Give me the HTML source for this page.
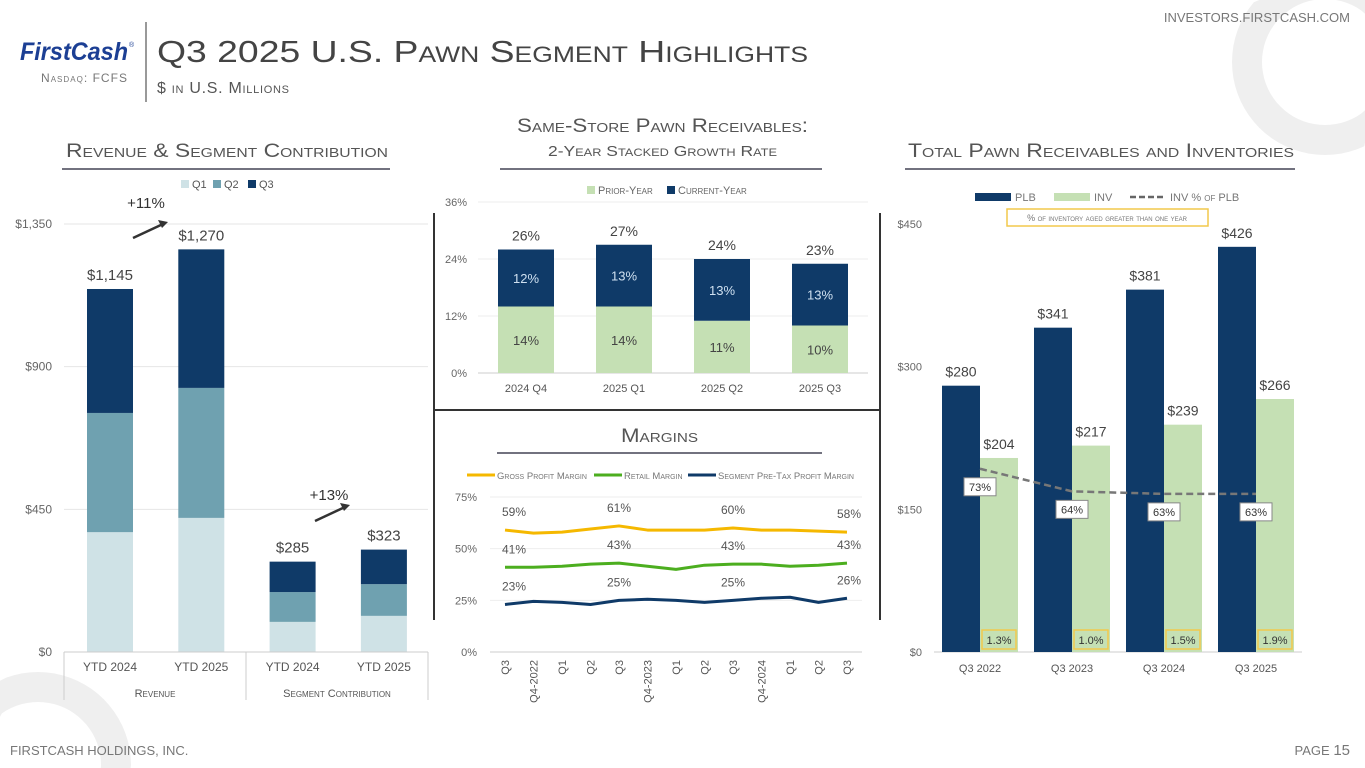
<!DOCTYPE html>
<html><head><meta charset="utf-8">
<style>
html,body{margin:0;padding:0;background:#fff;overflow:hidden;width:1365px;height:768px;}
body{position:relative;font-family:"Liberation Sans",sans-serif;}
svg{position:absolute;left:0;top:0;display:block;}
text{font-family:"Liberation Sans",sans-serif;}
.sc{font-variant:small-caps;}
</style></head>
<body>
<svg id="s" width="1365" height="768" viewBox="0 0 1365 768" overflow="hidden">
  <path id="ringTop" fill="#efefef" fill-rule="evenodd"/>
  <path id="ringBot" fill="#efefef" fill-rule="evenodd"/>
  <g>
    <text x="20" y="60" font-size="25" font-weight="bold" font-style="italic" fill="#1c3f94" textLength="108" lengthAdjust="spacingAndGlyphs">FirstCash</text>
    <text x="129" y="47" font-size="7" fill="#1c3f94">®</text>
    <text x="127" y="82" font-size="12" fill="#777" text-anchor="end" class="sc" textLength="86">Nasdaq: FCFS</text>
    <line x1="146" y1="22" x2="146" y2="102" stroke="#555" stroke-width="1.2"/>
    <text x="157" y="62" font-size="31" fill="#444" class="sc" textLength="651" lengthAdjust="spacingAndGlyphs">Q3 2025 U.S. Pawn Segment Highlights</text>
    <text x="157" y="93" font-size="16" fill="#555" class="sc" textLength="132">$ in U.S. Millions</text>
    <text x="1350" y="22" font-size="13" fill="#777" text-anchor="end">INVESTORS.FIRSTCASH.COM</text>
  </g>
  <g>
    <text x="10" y="755" font-size="13" fill="#777">FIRSTCASH HOLDINGS, INC.</text>
    <text x="1350" y="755" font-size="13" fill="#777" text-anchor="end">PAGE <tspan font-size="15">15</tspan></text>
  </g>
  <text x="66" y="157" font-size="19" fill="#555" class="sc" textLength="322" lengthAdjust="spacingAndGlyphs">Revenue &amp; Segment Contribution</text>
  <line x1="62" y1="169" x2="390" y2="169" stroke="#445" stroke-width="1.5"/>
  <text x="517" y="132" font-size="19" fill="#555" class="sc" textLength="291" lengthAdjust="spacingAndGlyphs">Same-Store Pawn Receivables:</text>
  <text x="548" y="156" font-size="15" fill="#555" class="sc" textLength="229" lengthAdjust="spacingAndGlyphs">2-Year Stacked Growth Rate</text>
  <line x1="500" y1="169" x2="822" y2="169" stroke="#445" stroke-width="1.5"/>
  <text x="908" y="157" font-size="19" fill="#555" class="sc" textLength="386" lengthAdjust="spacingAndGlyphs">Total Pawn Receivables and Inventories</text>
  <line x1="905" y1="169" x2="1295" y2="169" stroke="#445" stroke-width="1.5"/>
  <text x="621" y="442" font-size="19" fill="#555" class="sc" textLength="77" lengthAdjust="spacingAndGlyphs">Margins</text>
  <line x1="497" y1="453" x2="822" y2="453" stroke="#445" stroke-width="1.5"/>
  <line x1="434" y1="213" x2="434" y2="620" stroke="#333" stroke-width="2"/>
  <line x1="880" y1="213" x2="880" y2="620" stroke="#333" stroke-width="2"/>
  <line x1="434" y1="410" x2="880" y2="410" stroke="#333" stroke-width="2"/>
  <g id="g1"></g>
  <g id="g2"></g>
  <g id="g3"></g>
  <g id="g4"></g>
</svg>
<script>
// ---- Chart 1 data
const revCats = ['YTD 2024','YTD 2025','YTD 2024','YTD 2025'];
const revQ1 = [378,423,95,114];
const revQ2 = [376,410,94,100];
const revQ3 = [391,437,96,109];
const revTotals = ['$1,145','$1,270','$285','$323'];
const revTicks = [0,450,900,1350];
const revTickLabels = ['$0','$450','$900','$1,350'];
// ---- Chart 2 data
const grCats = ['2024 Q4','2025 Q1','2025 Q2','2025 Q3'];
const grPrior = [14,14,11,10];
const grCurrent = [12,13,13,13];
const grTotals = [26,27,24,23];
const grTicks = [0,12,24,36];
// ---- Chart 3 data
const mCats = ['Q3','Q4-2022','Q1','Q2','Q3','Q4-2023','Q1','Q2','Q3','Q4-2024','Q1','Q2','Q3'];
const mGross = [59,57.5,58,59.5,61,59,59,59,60,59,59,58.5,58];
const mRetail = [41,41,41.5,42.5,43,41.5,40,42,42.5,42.5,41.5,42,43];
const mSegment = [23,24.5,24,23,25,25.5,25,24,25,26,26.5,24,26];
const mTicks = [0,25,50,75];
// ---- Chart 4 data
const tCats = ['Q3 2022','Q3 2023','Q3 2024','Q3 2025'];
const tPLB = [280,341,381,426];
const tINV = [204,217,239,266];
const tPct = [73,64,63,63];
const tAged = ['1.3%','1.0%','1.5%','1.9%'];
const tTicks = [0,150,300,450];

const NS='http://www.w3.org/2000/svg';
function mk(parent,tag,attrs,txt){const e=document.createElementNS(NS,tag);for(const k in attrs)e.setAttribute(k,attrs[k]);if(txt!==undefined)e.textContent=txt;parent.appendChild(e);return e;}

// background rings clamped to frame
function ring(id,cx,cy,ro,ri){
  const cl=(v,m)=>Math.max(0,Math.min(m,v));
  const loop=r=>{let s='';for(let k=0;k<=72;k++){const a=k/72*2*Math.PI;s+=(k?'L':'M')+cl(cx+r*Math.cos(a),1365).toFixed(1)+','+cl(cy+r*Math.sin(a),768).toFixed(1);}return s+'Z';};
  document.getElementById(id).setAttribute('d',loop(ro)+loop(ri));
}
ring('ringTop',1325,62,93,63);
ring('ringBot',38,765,93,63);

// ===== Chart 1
(function(){
const g=document.getElementById('g1');
const y=v=>652-v*428/1350;
const x=i=>110+i*91.3;
revTicks.forEach((t,i)=>{
  if(t>0){const l=mk(g,'line',{x1:64,x2:428,y1:y(t),y2:y(t),stroke:'#e6e6e6'});
  
  }
  const tx=mk(g,'text',{x:52,y:y(t)+4,'font-size':12,fill:'#666','text-anchor':'end'},revTickLabels[i]);
  
  
});
const cols=['#cfe2e6','#6fa1b0','#0f3a68'];
revCats.forEach((c,i)=>{
  let base=0;
  [revQ1,revQ2,revQ3].forEach((arr,k)=>{
    const r=mk(g,'rect',{x:x(i)-23,width:46,y:y(base+arr[i]),height:y(base)-y(base+arr[i]),fill:cols[k]});
    
    
    base+=arr[i];
  });
  const t=mk(g,'text',{x:x(i),y:y(base)-9,'font-size':15,fill:'#444','text-anchor':'middle'},revTotals[i]);
  
  
  const xl=mk(g,'text',{x:x(i),y:671,'font-size':12,fill:'#555','text-anchor':'middle'},c);
  
  
});
mk(g,'line',{x1:64,x2:428,y1:652,y2:652,stroke:'#ccc'});
[64,246,428].forEach(v=>mk(g,'line',{x1:v,x2:v,y1:652,y2:700,stroke:'#ccc'}));
const a=mk(g,'text',{x:155,y:697,'font-size':11,fill:'#555','text-anchor':'middle',class:'sc'},'Revenue');


const b=mk(g,'text',{x:337,y:697,'font-size':11,fill:'#555','text-anchor':'middle',class:'sc'},'Segment Contribution');


[['Q1',cols[0],181],['Q2',cols[1],213],['Q3',cols[2],248]].forEach(([n,c,lx])=>{
  const r=mk(g,'rect',{x:lx,y:180,width:8,height:8,fill:c});
  
  
  const t=mk(g,'text',{x:lx+11,y:188,'font-size':11,fill:'#555'},n);
  
  
});
const an=[['+11%',146,208,133,238,168,222],['+13%',329,500,315,521,350,505]];
an.forEach(([t,tx,ty,x1,y1,x2,y2])=>{
  const e=mk(g,'text',{x:tx,y:ty,'font-size':15,fill:'#333','text-anchor':'middle'},t);
  
  
  mk(g,'line',{x1:x1,y1:y1,x2:x2-5,y2:y2+2,stroke:'#333','stroke-width':2.5});
  mk(g,'polygon',{points:`${x2},${y2} ${x2-10},${y2-2} ${x2-6},${y2+6}`,fill:'#333'});
});
})();

// ===== Chart 2
(function(){
const g=document.getElementById('g2');
const y=v=>373-v*4.75;
const x=i=>526+i*98;
grTicks.forEach(t=>{
  if(t>0){const l=mk(g,'line',{x1:478,x2:868,y1:y(t),y2:y(t),stroke:'#eee'});
  
  }
  const tx=mk(g,'text',{x:467,y:y(t)+4,'font-size':11,fill:'#666','text-anchor':'end'},t+'%');
  
  
});
mk(g,'line',{x1:478,x2:868,y1:373,y2:373,stroke:'#ccc'});
grCats.forEach((c,i)=>{
  const r1=mk(g,'rect',{x:x(i)-28,width:56,y:y(grPrior[i]),height:grPrior[i]*4.75,fill:'#c5e0b4'});
  
  
  const top=grPrior[i]+grCurrent[i];
  const r2=mk(g,'rect',{x:x(i)-28,width:56,y:y(top),height:grCurrent[i]*4.75,fill:'#0f3a68'});
  
  
  const l1=mk(g,'text',{x:x(i),y:y(grPrior[i]/2)+5,'font-size':13,fill:'#444','text-anchor':'middle'},grPrior[i]+'%');
  
  
  const l2=mk(g,'text',{x:x(i),y:y(grPrior[i]+grCurrent[i]/2)+5,'font-size':13,fill:'#cfe0f0','text-anchor':'middle'},grCurrent[i]+'%');
  
  
  const l3=mk(g,'text',{x:x(i),y:y(top)-9,'font-size':14,fill:'#444','text-anchor':'middle'},grTotals[i]+'%');
  
  
  const xl=mk(g,'text',{x:x(i),y:392,'font-size':11,fill:'#555','text-anchor':'middle'},c);
  
  
});
[['Prior-Year','#c5e0b4',587],['Current-Year','#0f3a68',667]].forEach(([n,c,lx])=>{
  const r=mk(g,'rect',{x:lx,y:186,width:8,height:8,fill:c});
  
  
  const t=mk(g,'text',{x:lx+11,y:194,'font-size':11,fill:'#666',class:'sc'},n);
  
  
});
})();

// ===== Chart 3
(function(){
const g=document.getElementById('g3');
const y=v=>652-v*155/75;
const x=i=>505+i*28.5;
mTicks.forEach(t=>{
  if(t>0){const l=mk(g,'line',{x1:490,x2:862,y1:y(t),y2:y(t),stroke:'#eee'});
  
  }
  const tx=mk(g,'text',{x:477,y:y(t)+4,'font-size':11,fill:'#666','text-anchor':'end'},t+'%');
  
  
});
mk(g,'line',{x1:490,x2:862,y1:652,y2:652,stroke:'#ccc'});
mCats.forEach((c,i)=>{
  const t=mk(g,'text',{transform:`translate(${x(i)+4},660) rotate(-90)`,'font-size':11,fill:'#555','text-anchor':'end'},c);
  
  
});
const series=[[mGross,'#f5b800','gross-margin-line'],[mRetail,'#4cae1f','retail-margin-line'],[mSegment,'#0f3a68','segment-margin-line']];
series.forEach(([arr,col,name])=>{
  const p=mk(g,'polyline',{points:arr.map((v,i)=>x(i)+','+y(v)).join(' '),fill:'none',stroke:col,'stroke-width':3,'stroke-linejoin':'round'});
  
  
  [0,4,8,12].forEach(i=>{
    const t=mk(g,'text',{x:x(i)+(i===0?9:(i===12?2:0)),y:y(arr[i])-14,'font-size':12,fill:'#555','text-anchor':'middle'},Math.round(arr[i])+'%');
    
    
  });
});
[['Gross Profit Margin','#f5b800',467],['Retail Margin','#4cae1f',594],['Segment Pre-Tax Profit Margin','#0f3a68',688]].forEach(([n,c,lx])=>{
  mk(g,'line',{x1:lx,x2:lx+28,y1:475,y2:475,stroke:c,'stroke-width':3});
  const t=mk(g,'text',{x:lx+30,y:479,'font-size':9.5,fill:'#777',class:'sc'},n);
  
  
});
})();

// ===== Chart 4
(function(){
const g=document.getElementById('g4');
const y=v=>652-v*428/450;
const x=i=>980+i*92;
const y2=p=>652-p*2.51;
tTicks.forEach(t=>{
  const tx=mk(g,'text',{x:922,y:y(t)+4,'font-size':11,fill:'#666','text-anchor':'end'},'$'+t);
  
  
});
mk(g,'line',{x1:934,x2:1302,y1:652,y2:652,stroke:'#ccc'});
tCats.forEach((c,i)=>{
  const r1=mk(g,'rect',{x:x(i)-38,width:38,y:y(tPLB[i]),height:652-y(tPLB[i]),fill:'#0f3a68'});
  
  
  const r2=mk(g,'rect',{x:x(i),width:38,y:y(tINV[i]),height:652-y(tINV[i]),fill:'#c5e0b4'});
  
  
  const l1=mk(g,'text',{x:x(i)-19,y:y(tPLB[i])-9,'font-size':14,fill:'#444','text-anchor':'middle'},'$'+tPLB[i]);
  
  
  const l2=mk(g,'text',{x:x(i)+19,y:y(tINV[i])-9,'font-size':14,fill:'#444','text-anchor':'middle'},'$'+tINV[i]);
  
  
  const xl=mk(g,'text',{x:x(i),y:672,'font-size':11,fill:'#555','text-anchor':'middle'},c);
  
  
  const bx=mk(g,'rect',{x:x(i)+2,y:630,width:34,height:19,fill:'#c5e0b4',stroke:'#f2c94c','stroke-width':1.5});
  
  
  const at=mk(g,'text',{x:x(i)+19,y:644,'font-size':11,fill:'#333','text-anchor':'middle'},tAged[i]);
  
  
});
const pl=mk(g,'polyline',{points:tPct.map((p,i)=>x(i)+','+y2(p)).join(' '),fill:'none',stroke:'#777','stroke-width':2.5,'stroke-dasharray':'7,4'});


tPct.forEach((p,i)=>{
  const bx=mk(g,'rect',{x:x(i)-16,y:y2(p)+9,width:32,height:18,fill:'#fff',stroke:'#888'});
  
  
  const t=mk(g,'text',{x:x(i),y:y2(p)+22,'font-size':11,fill:'#333','text-anchor':'middle'},p+'%');
  
  
});
mk(g,'rect',{x:975,y:193,width:36,height:8,fill:'#0f3a68'});
mk(g,'text',{x:1015,y:201,'font-size':11,fill:'#777'},'PLB');
mk(g,'rect',{x:1054,y:193,width:36,height:8,fill:'#c5e0b4'});
mk(g,'text',{x:1094,y:201,'font-size':11,fill:'#777'},'INV');
mk(g,'line',{x1:1130,x2:1166,y1:197,y2:197,stroke:'#666','stroke-width':2.5,'stroke-dasharray':'6,3'});
const lg=mk(g,'text',{x:1170,y:201,'font-size':11,fill:'#777'},'INV % ');
mk(lg,'tspan',{class:'sc'},'of PLB');
const lb=mk(g,'rect',{x:1007,y:209,width:201,height:17,fill:'#fff',stroke:'#f2c94c','stroke-width':1.5});


const lt=mk(g,'text',{x:1107,y:221,'font-size':9,fill:'#777','text-anchor':'middle',class:'sc'},'% of inventory aged greater than one year');


})();
</script>
</body></html>
